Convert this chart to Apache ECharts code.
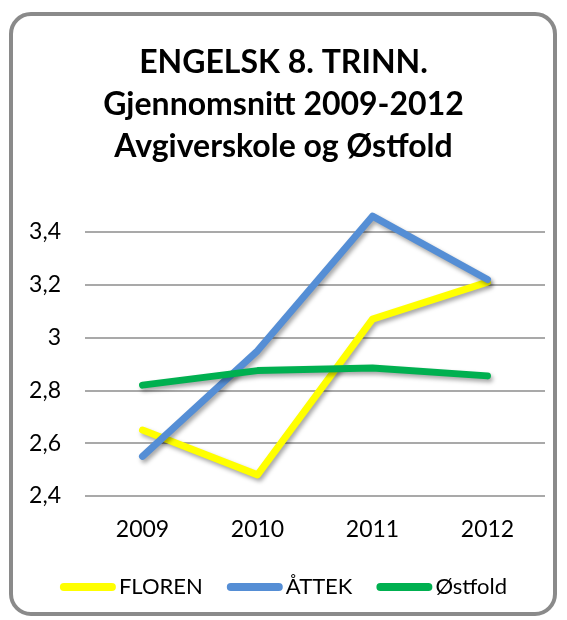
<!DOCTYPE html>
<html>
<head>
<meta charset="utf-8">
<script src="https://cdn.jsdelivr.net/npm/echarts@6/dist/echarts.min.js"></script>
<style>
  html, body { margin: 0; padding: 0; background: #fff; }
  #chart { width: 567px; height: 620px; }
</style>
</head>
<body>
<div id="chart"></div>
<script>
const years = ['2009', '2010', '2011', '2012']
const floren = [2.65, 2.48, 3.07, 3.21]
const attek = [2.55, 2.95, 3.46, 3.22]
const ostfold = [2.82, 2.875, 2.885, 2.855]
const yTicks = { min: 2.4, max: 3.4, step: 0.2 }

const chart = echarts.init(document.getElementById('chart'))

const shadow = {
  shadowColor: 'rgba(0,0,0,0.35)',
  shadowBlur: 4,
  shadowOffsetX: 2,
  shadowOffsetY: 3,
}

const makeSeries = (name, data, color) => ({
  name,
  type: 'line',
  data,
  symbol: 'none',
  clip: false,
  color,
  lineStyle: { width: 7, color, cap: 'round', join: 'round', ...shadow },
})

const pill = 'path://M4,0 H52 A4,4 0 0 1 52,8 H4 A4,4 0 0 1 4,0 Z'

const option = {
  animation: false,
  backgroundColor: '#fff',
  graphic: [{
    type: 'rect',
    shape: { x: 11, y: 14, width: 544, height: 600, r: 20 },
    style: { fill: '#fff', stroke: '#8a8a8a', lineWidth: 4 },
    z: -10,
  }],
  title: {
    text: 'ENGELSK 8. TRINN.\nGjennomsnitt 2009-2012\nAvgiverskole og Østfold',
    left: 'center',
    top: 37,
    textStyle: {
      fontFamily: 'Lato',
      fontWeight: 'bold',
      fontSize: 32,
      lineHeight: 42,
      color: '#000',
    },
  },
  grid: { left: 85, right: 22, top: 232, bottom: 124 },
  xAxis: {
    type: 'category',
    data: years,
    boundaryGap: true,
    axisLine: { show: false },
    axisTick: { show: false },
    axisLabel: { fontFamily: 'Lato', fontSize: 23, color: '#000', margin: 22 },
  },
  yAxis: {
    type: 'value',
    min: yTicks.min,
    max: yTicks.max,
    interval: yTicks.step,
    axisLine: { show: false },
    axisTick: { show: false },
    axisLabel: {
      fontFamily: 'Lato',
      fontSize: 23,
      color: '#000',
      margin: 24,
      formatter: v => String(Math.round(v * 10) / 10).replace('.', ','),
    },
    splitLine: { lineStyle: { color: '#8c8c8c', width: 1.5 } },
  },
  legend: {
    bottom: 17,
    left: 'center',
    itemWidth: 56,
    itemHeight: 9,
    itemGap: 24,
    icon: pill,
    textStyle: { fontFamily: 'Lato', fontSize: 22, color: '#000', padding: [0, 0, 0, -2] },
    data: ['FLOREN', 'ÅTTEK', 'Østfold'],
  },
  series: [
    makeSeries('FLOREN', floren, '#ffff00'),
    makeSeries('ÅTTEK', attek, '#558ed5'),
    makeSeries('Østfold', ostfold, '#00b050'),
  ],
}

chart.setOption(option)
</script>
</body>
</html>
